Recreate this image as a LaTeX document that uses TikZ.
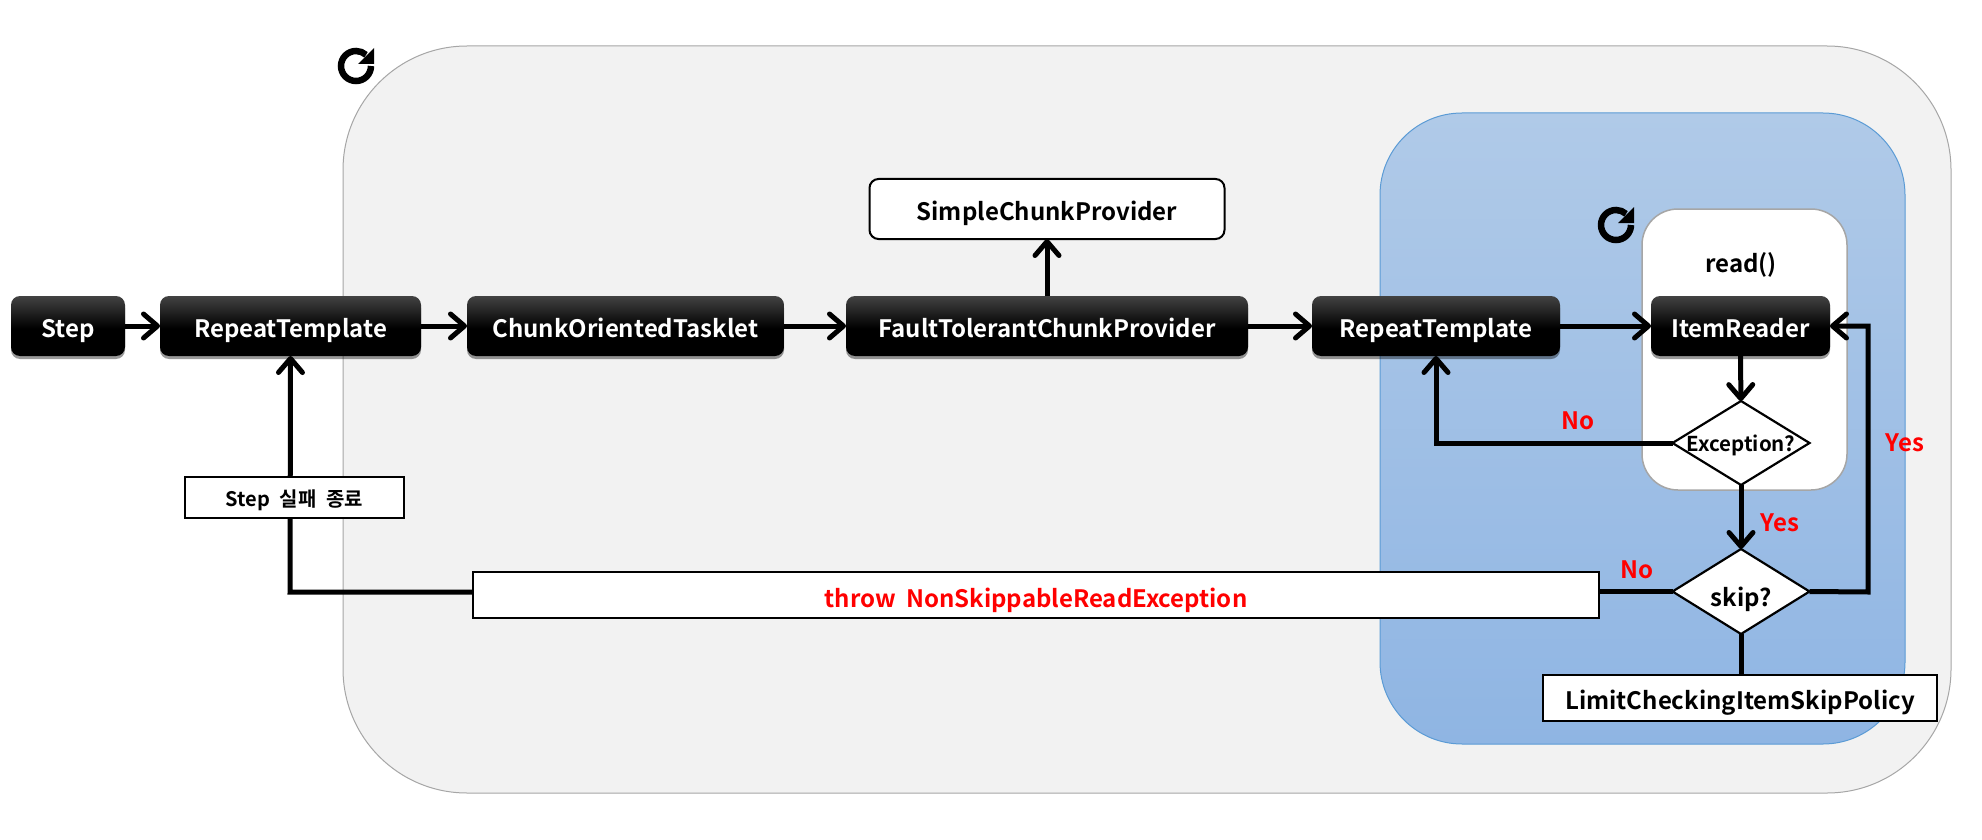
\documentclass[tikz,border=0pt]{standalone}
\usepackage{fontspec}
\setmainfont{Noto Sans CJK KR}[BoldFont={Noto Sans CJK KR Bold}]
\usetikzlibrary{arrows.meta,shapes.geometric,shadows}
\definecolor{outerfill}{HTML}{F2F2F2}
\definecolor{outerline}{HTML}{A6A6A6}
\definecolor{bluetop}{HTML}{B0CAE8}
\definecolor{bluebot}{HTML}{8FB5E3}
\definecolor{blueline}{HTML}{5B9BD5}
\definecolor{redtxt}{HTML}{FF0000}
\pgfdeclareverticalshading{blackbox}{100bp}{
  color(0bp)=(black); color(25bp)=(black); color(48bp)=(black); color(75bp)=(black!74); color(100bp)=(black!74)}
\tikzset{
  x=1pt,y=-1pt,
  every node/.style={font=\fontsize{24}{27}\selectfont\bfseries,inner sep=0pt,outer sep=0pt,text height=23pt,text depth=0pt},
  darkbox/.style={rectangle,rounded corners=9pt,shading=blackbox,shading angle=0,text=white,
    drop shadow={shadow xshift=0pt,shadow yshift=-3pt,opacity=.4,fill=black}},
  whitebox/.style={rectangle,draw=black,line width=2.5pt,fill=white},
  decide/.style={diamond,draw=black,line width=2.2pt,fill=white,aspect=1.63},
  flow/.style={draw=black,line width=5pt,-{Straight Barb[length=14pt,width=24pt,round]}},
  plain/.style={draw=black,line width=5pt},
  redlabel/.style={text=redtxt},
}
\newcommand{\reloadicon}[2]{%
  \begin{scope}[shift={(#1,#2)}]
    \draw[line width=6.5pt] (15,0) arc[start angle=0,end angle=-312,radius=15pt];
    \fill (18,-18) -- (18,-2) -- (2,-2) -- cycle;
  \end{scope}}
\begin{document}
\begin{tikzpicture}
\useasboundingbox (0,0) rectangle (1982,840);
\fill[white] (0,0) rectangle (1982,840);
% containers
\node[draw=outerline,line width=1pt,fill=outerfill,rounded corners=124pt,minimum width=1608pt,minimum height=747pt] (outer) at (1147,419.5) {};
\node[draw=blueline,line width=1pt,top color=bluetop,bottom color=bluebot,rounded corners=82pt,minimum width=525pt,minimum height=631pt] (blue) at (1642.5,428.5) {};
\node[draw=outerline,line width=1.5pt,fill=white,rounded corners=36pt,minimum width=205pt,minimum height=281pt] (inner) at (1744.5,349.5) {};
% icons
\reloadicon{356}{66}
\reloadicon{1616}{225}
% nodes
\node[darkbox,minimum width=114pt,minimum height=60pt] (step) at (68,326) {Step};
\node[darkbox,minimum width=261pt,minimum height=60pt] (rt1) at (290.5,326) {RepeatTemplate};
\node[darkbox,minimum width=317pt,minimum height=60pt] (tasklet) at (625.5,326) {ChunkOrientedTasklet};
\node[darkbox,minimum width=402pt,minimum height=60pt] (fault) at (1047,326) {FaultTolerantChunkProvider};
\node[darkbox,minimum width=248pt,minimum height=60pt] (rt2) at (1436,326) {RepeatTemplate};
\node[darkbox,minimum width=179pt,minimum height=60pt] (reader) at (1740.5,326) {ItemReader};
\node[rectangle,draw=black,line width=2pt,fill=white,rounded corners=9pt,minimum width=355pt,minimum height=60pt] (simple) at (1047,209) {SimpleChunkProvider};
\node (readtxt) at (1741,261) {read()};
\node[decide,minimum width=137pt,minimum height=84pt,label={[font=\fontsize{20.5}{23}\selectfont\bfseries,text height=17.5pt]center:Exception?}] (exc) at (1741,443) {};
\node[decide,minimum width=137pt,minimum height=85pt,label={[font=\fontsize{24}{27}\selectfont\bfseries,text height=29pt]center:skip?}] (skip) at (1741,591.5) {};
\node[whitebox,minimum width=394pt,minimum height=46pt] (limit) at (1740,698) {LimitCheckingItemSkipPolicy};
\node[whitebox,minimum width=1126pt,minimum height=46pt,text height=25pt] (throw) at (1036,595) {\textcolor{redtxt}{throw\hspace{5pt} NonSkippableReadException}};
\coordinate (corner) at (290,592);
\coordinate (turn) at (1868,592);
% connectors
\draw[flow] (step) -- (rt1);
\draw[flow] (rt1) -- (tasklet);
\draw[flow] (tasklet) -- (fault);
\draw[flow] (fault) -- (rt2);
\draw[flow] (rt2) -- (reader);
\draw[flow] (fault) -- (simple);
\draw[flow] (reader) -- (exc);
\draw[flow] (exc) -- (skip);
\draw[flow] (exc.west) -| (rt2.south);
\draw[plain] (skip.west) -- (throw.east |- skip.west);
\draw[flow] (throw.west |- corner) -- (corner) -- (rt1.south);
\draw[flow] (skip.east) -- (turn) |- (reader.east);
\draw[plain] (skip.south) -- (skip.south |- limit.north);
% label box over the return line
\node[whitebox,minimum width=219pt,minimum height=41pt,font=\fontsize{20}{23}\selectfont\bfseries,text height=17pt] (fail) at (294.5,497.5) {Step\hspace{5pt} 실패\hspace{5pt} 종료};
% branch labels
\node[redlabel] (no1) at (1578,418) {No};
\node[redlabel] (yes1) at (1905,440) {Yes};
\node[redlabel] (yes2) at (1780,520) {Yes};
\node[redlabel] (no2) at (1637,567) {No};
\end{tikzpicture}
\end{document}
